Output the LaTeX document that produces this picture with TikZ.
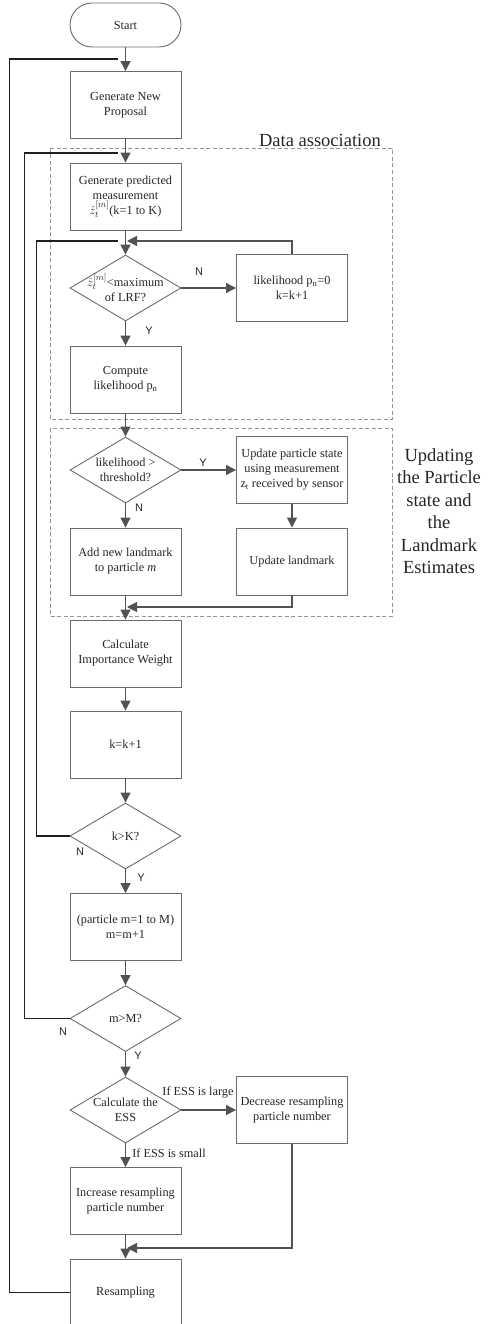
\documentclass[tikz,border=0pt]{standalone}
\usepackage{fontspec}
\setmainfont{Liberation Serif}
\newfontfamily\ynfont{Liberation Sans}
\usetikzlibrary{shapes.geometric,arrows.meta,positioning}
\colorlet{boxline}{black!58}
\colorlet{flowline}{black!68}
\colorlet{frameline}{black!42}
\tikzset{>={Triangle[length=10pt,width=10pt]}}
\tikzset{
  blk/.style={rectangle,draw=boxline,line width=0.9pt,minimum width=111pt,
    minimum height=67pt,inner sep=0pt,align=center,text=black!85,
    font=\fontsize{12.3}{15}\selectfont},
  term/.style={blk,rounded corners=22pt,minimum height=44pt},
  cond/.style={diamond,draw=boxline,line width=0.9pt,minimum width=111pt,
    minimum height=66pt,inner sep=0pt},
  dtext/.style={align=center,inner sep=0pt,text=black!85,
    font=\fontsize{12.3}{15}\selectfont},
  yn/.style={inner sep=0pt,text=black!85,font=\ynfont\fontsize{11}{13}\selectfont},
  note/.style={inner sep=0pt,align=center,text=black!85,
    font=\fontsize{18.5}{22.5}\selectfont},
  flow/.style={->,draw=flowline,line width=1.2pt},
  back/.style={draw=black!88,line width=1.3pt},
  frame/.style={draw=frameline,line width=0.9pt,dash pattern=on 4pt off 2.5pt}
}

\begin{document}
\begin{tikzpicture}[x=1pt,y=-1pt]
  \useasboundingbox (0,0) rectangle (488,1324);
  \pgfmathsetmacro{\cx}{125.5};
  \pgfmathsetmacro{\rx}{292};

  \draw[frame] (50,148) rectangle (392,419);
  \draw[frame] (50,428) rectangle (392,616);
  \node[note,anchor=south east] (da) at (381,147) {Data association};
  \node[note] (upd-note) at (439,511) {Updating\\the Particle\\state and\\the\\Landmark\\Estimates};

  \node[term] (start) at (\cx,25) {Start};
  \node[blk] (prop) at (\cx,105) {Generate New\\Proposal};
  \node[blk] (pred) at (\cx,196.5) {Generate predicted\\measurement\\$\hat{z}_t^{[m]}$(k=1 to K)};
  \node[cond,label={[dtext]center:{$\hat{z}_t^{[m]}$<maximum\\of LRF?}}] (lrf) at (\cx,288) {};
  \node[blk] (zero) at (\rx,288) {likelihood p\textsubscript{n}=0\\k=k+1};
  \node[blk] (comp) at (\cx,379.5) {Compute\\likelihood p\textsubscript{n}};
  \node[cond,label={[dtext]center:{likelihood >\\threshold?}}] (thr) at (\cx,470) {};
  \node[blk] (upd) at (\rx,470) {Update particle state\\using measurement\\z\textsubscript{t} received by sensor};
  \node[blk] (add) at (\cx,561.5) {Add new landmark\\to particle \textit{m}};
  \node[blk] (lm) at (\rx,561.5) {Update landmark};
  \node[blk] (ciw) at (\cx,653.5) {Calculate\\Importance Weight};
  \node[blk] (kinc) at (\cx,744.5) {k=k+1};
  \node[cond,label={[dtext]center:{k>K?}}] (kK) at (\cx,836) {};
  \node[blk] (minc) at (\cx,927) {(particle m=1 to M)\\m=m+1};
  \node[cond,label={[dtext]center:{m>M?}}] (mM) at (\cx,1018.5) {};
  \node[cond,label={[dtext]center:{Calculate the\\ESS}}] (ess) at (\cx,1110) {};
  \node[blk] (decr) at (\rx,1110) {Decrease resampling\\particle number};
  \node[blk] (incr) at (\cx,1201) {Increase resampling\\particle number};
  \node[blk] (rs) at (\cx,1292.5) {Resampling};

  \coordinate (j1) at (118,59);
  \coordinate (j2) at (118,153);
  \coordinate (j3) at (118,241);
  \coordinate (r3) at (127,241);
  \coordinate (r4) at (127,607);
  \coordinate (r5) at (127,1248);

  \draw[flow] (start) -- (prop);
  \draw[flow] (prop) -- (pred);
  \draw[flow] (pred) -- (lrf);
  \draw[flow] (lrf) -- (zero);
  \draw[flow] (lrf) -- (comp);
  \draw[flow] (zero.north) |- (r3);
  \draw[flow] (comp) -- (thr);
  \draw[flow] (thr) -- (upd);
  \draw[flow] (thr) -- (add);
  \draw[flow] (upd) -- (lm);
  \draw[flow] (add) -- (ciw);
  \draw[flow] (lm.south) |- (r4);
  \draw[flow] (ciw) -- (kinc);
  \draw[flow] (kinc) -- (kK);
  \draw[flow] (kK) -- (minc);
  \draw[flow] (minc) -- (mM);
  \draw[flow] (mM) -- (ess);
  \draw[flow] (ess) -- (decr);
  \draw[flow] (ess) -- (incr);
  \draw[flow] (incr) -- (rs);
  \draw[flow] (decr.south) |- (r5);

  \draw[back] (rs.west) -- ++(-60,0) |- (j1);
  \draw[back] (mM.west) -- ++(-45,0) |- (j2);
  \draw[back] (kK.west) -- ++(-33,0) |- (j3);

  \node[yn] (n-lrf) at (199,272) {N};
  \node[yn] (y-lrf) at (149,331) {Y};
  \node[yn] (y-thr) at (203,463) {Y};
  \node[yn] (n-thr) at (139,508) {N};
  \node[yn] (n-kK) at (80,852) {N};
  \node[yn] (y-kK) at (141,878) {Y};
  \node[yn] (n-mM) at (63,1032) {N};
  \node[yn] (y-mM) at (138,1056) {Y};
  \node[dtext] (large) at (198,1092) {If ESS is large};
  \node[dtext] (small) at (169,1153) {If ESS is small};
\end{tikzpicture}
\end{document}
